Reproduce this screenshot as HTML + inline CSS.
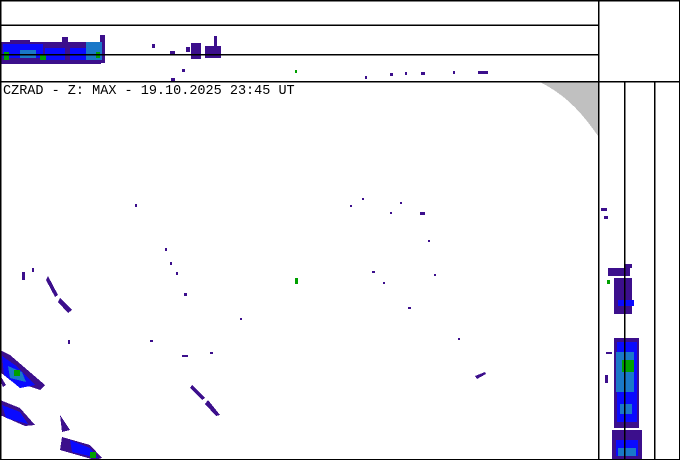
<!DOCTYPE html>
<html><head><style>
html,body{margin:0;padding:0;background:#fff;width:680px;height:460px;overflow:hidden}
svg{display:block}
</style></head><body>
<svg width="680" height="460" xmlns="http://www.w3.org/2000/svg" shape-rendering="crispEdges">
<rect width="680" height="460" fill="#fff"/>
<path d="M540,82 L598,82 L598,136 C580,110 565,95 540,82 Z" fill="#c0c0c0"/>
<g fill="#3c0f8c">
<rect x="1" y="42" width="100" height="22"/>
<rect x="10" y="40" width="20" height="3"/>
<rect x="62" y="37" width="6" height="10"/>
<rect x="100" y="35" width="5" height="28"/>
<rect x="152" y="44" width="3" height="4"/>
<rect x="170" y="51" width="5" height="3"/>
<rect x="186" y="47" width="4" height="5"/>
<rect x="191" y="43" width="10" height="16"/>
<rect x="205" y="46" width="16" height="12"/>
<rect x="214" y="36" width="3" height="10"/>
<rect x="171" y="78" width="4" height="3"/>
<rect x="182" y="69" width="3" height="3"/>
<rect x="390" y="73" width="3" height="3"/>
<rect x="421" y="72" width="4" height="3"/>
<rect x="478" y="71" width="10" height="3"/>
<rect x="365" y="76" width="2" height="3"/>
<rect x="405" y="72" width="2" height="3"/>
<rect x="453" y="71" width="2" height="3"/>
<rect x="608" y="268" width="22" height="8"/>
<rect x="614" y="278" width="18" height="36"/>
<rect x="614" y="338" width="25" height="90"/>
<rect x="612" y="430" width="30" height="30"/>
<rect x="624" y="264" width="8" height="4"/>
</g>
<g fill="#0a0aff">
<rect x="3" y="44" width="40" height="14"/>
<rect x="45" y="48" width="20" height="12"/>
<rect x="70" y="48" width="32" height="12"/>
<rect x="618" y="300" width="16" height="6"/>
<rect x="617" y="342" width="20" height="80"/>
<rect x="616" y="440" width="22" height="16"/>
</g>
<g fill="#1a78c8">
<rect x="86" y="42" width="16" height="18"/>
<rect x="20" y="50" width="16" height="8"/>
<rect x="616" y="352" width="18" height="40"/>
<rect x="620" y="404" width="12" height="10"/>
<rect x="618" y="448" width="18" height="8"/>
</g>
<g fill="#00a000">
<rect x="4" y="52" width="5" height="8"/>
<rect x="40" y="54" width="6" height="6"/>
<rect x="96" y="52" width="4" height="6"/>
<rect x="622" y="360" width="12" height="12"/>
<rect x="295" y="70" width="2" height="3"/>
<rect x="607" y="280" width="3" height="4"/>
<rect x="295" y="278" width="3" height="6"/>
</g>
<g fill="#3c0f8c">
<path d="M0,350 L10,355 L45,385 L40,390 L10,380 L0,372 Z"/>
<path d="M0,400 L20,408 L35,425 L25,426 L0,415 Z"/>
<path d="M60,415 L70,430 L62,432 Z"/>
<path d="M62,437 L90,445 L102,458 L95,460 L60,450 Z"/>
<path d="M48,276 L58,295 L55,297 L46,280 Z"/>
<path d="M60,298 L72,310 L68,313 L58,302 Z"/>
<path d="M192,385 L205,398 L202,400 L190,388 Z"/>
<path d="M208,400 L220,415 L216,416 L205,404 Z"/>
<path d="M475,376 L485,372 L486,374 L477,379 Z"/>
<path d="M0,375 L6,385 L3,387 L0,380 Z"/>
<rect x="22" y="272" width="3" height="8"/>
<rect x="32" y="268" width="2" height="4"/>
<rect x="135" y="204" width="2" height="3"/>
<rect x="165" y="248" width="2" height="3"/>
<rect x="170" y="262" width="2" height="3"/>
<rect x="176" y="272" width="2" height="3"/>
<rect x="184" y="293" width="3" height="3"/>
<rect x="182" y="355" width="6" height="2"/>
<rect x="150" y="340" width="3" height="2"/>
<rect x="210" y="352" width="3" height="2"/>
<rect x="601" y="208" width="6" height="3"/>
<rect x="604" y="216" width="4" height="3"/>
<rect x="606" y="352" width="6" height="2"/>
<rect x="605" y="375" width="3" height="8"/>
<rect x="420" y="212" width="5" height="3"/>
<rect x="400" y="202" width="2" height="2"/>
<rect x="362" y="198" width="2" height="2"/>
<rect x="350" y="205" width="2" height="2"/>
<rect x="390" y="212" width="2" height="2"/>
<rect x="428" y="240" width="2" height="2"/>
<rect x="383" y="282" width="2" height="2"/>
<rect x="408" y="307" width="3" height="2"/>
<rect x="372" y="271" width="3" height="2"/>
<rect x="240" y="318" width="2" height="2"/>
<rect x="434" y="274" width="2" height="2"/>
<rect x="458" y="338" width="2" height="2"/>
<rect x="68" y="340" width="2" height="4"/>
</g>
<g fill="#0a0aff">
<path d="M2,356 L15,365 L35,385 L20,388 L4,375 Z"/>
<path d="M2,405 L20,412 L28,424 L6,418 Z"/>
<path d="M70,440 L90,448 L98,458 L72,452 Z"/>
</g>
<g fill="#1a78c8"><path d="M8,366 L22,372 L26,382 L10,378 Z"/></g>
<g fill="#00a000"><rect x="14" y="370" width="6" height="6"/><rect x="90" y="452" width="6" height="6"/></g>
<g stroke="#000" stroke-width="1.5" fill="none">
<rect x="0.5" y="0.5" width="679" height="459"/>
<line x1="0" y1="25" x2="598" y2="25"/>
<line x1="0" y1="54.5" x2="598" y2="54.5"/>
<line x1="0" y1="81.5" x2="680" y2="81.5"/>
<line x1="598.5" y1="0" x2="598.5" y2="460"/>
<line x1="624.5" y1="82" x2="624.5" y2="460"/>
<line x1="654.5" y1="82" x2="654.5" y2="460"/>
</g>
<text x="3" y="94" font-family="Liberation Mono, monospace" font-size="13.5" fill="#000">CZRAD - Z: MAX - 19.10.2025 23:45 UT</text>
</svg>
</body></html>
